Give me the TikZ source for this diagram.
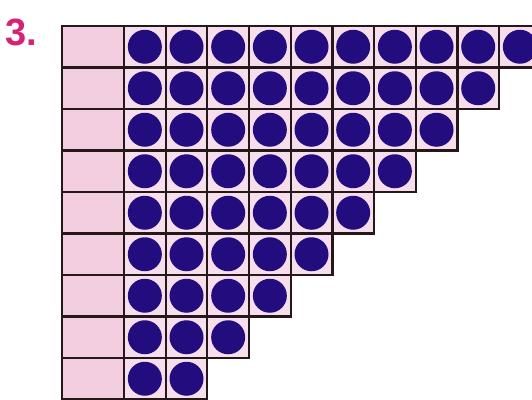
\documentclass[tikz,border=0pt]{standalone}
\usepackage{fontspec}
\setmainfont{Liberation Sans}
\definecolor{dotblue}{RGB}{34,12,126}
\definecolor{leftpink}{RGB}{242,206,224}
\definecolor{cellpink}{RGB}{246,222,236}
\definecolor{gridline}{RGB}{36,24,24}
\definecolor{numpink}{RGB}{218,32,116}
\begin{document}
\begin{tikzpicture}[x=1pt,y=-1pt,
  leftcell/.style={fill=leftpink,draw=gridline,line width=2.3pt},
  dotcell/.style={fill=cellpink,draw=gridline,line width=2.3pt},
  dot/.style={fill=dotblue,draw=none}]
\useasboundingbox (0,0) rectangle (532,399);
\fill[white] (0,0) rectangle (532,399);
\node[anchor=south west,inner sep=0pt,text=numpink,font=\fontsize{38}{40}\selectfont\bfseries] (num) at (5,46) {3.};
\clip (0,0) rectangle (532,399);
\foreach \r in {1,...,9}{
  \pgfmathsetmacro{\top}{26+41.5*(\r-1)}
  \pgfmathsetmacro{\bot}{\top+41.5}
  \draw[leftcell] (62,\top) rectangle (124,\bot);
  \pgfmathtruncatemacro{\n}{11-\r}
  \foreach \c in {1,...,\n}{
    \pgfmathsetmacro{\xl}{124+41.67*(\c-1)}
    \pgfmathsetmacro{\xr}{\xl+41.67}
    \draw[dotcell] (\xl,\top) rectangle (\xr,\bot);
    \fill[dot] ({(\xl+\xr)/2},{(\top+\bot)/2}) circle (17);
  }
}
\end{tikzpicture}
\end{document}
